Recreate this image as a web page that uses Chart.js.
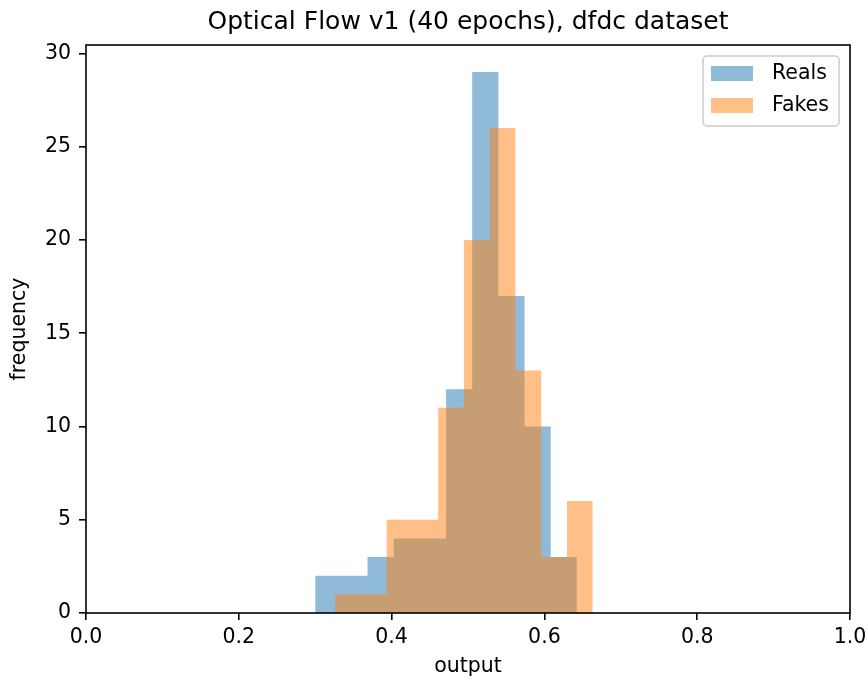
<!DOCTYPE html>
<html>
<head>
<meta charset="utf-8">
<title>Optical Flow v1 (40 epochs), dfdc dataset</title>
<script src="https://cdn.jsdelivr.net/npm/chart.js@4.4.1/dist/chart.umd.min.js"></script>
<style>
  html, body { margin: 0; padding: 0; background: #fff; }
  canvas { display: block; }
</style>
</head>
<body>
<canvas id="histChart" width="868" height="684"></canvas>
<script>
// ---- data (10 bins per histogram) ----
const realsEdges  = [0.3000, 0.3343, 0.3685, 0.4028, 0.4370, 0.4713, 0.5055, 0.5398, 0.5740, 0.6083, 0.6425];
const realsCounts = [2, 2, 3, 4, 4, 12, 29, 17, 10, 3];
const fakesEdges  = [0.3260, 0.3597, 0.3935, 0.4272, 0.4609, 0.4947, 0.5284, 0.5621, 0.5958, 0.6296, 0.6633];
const fakesCounts = [1, 1, 5, 5, 11, 20, 26, 13, 3, 6];
const xTicks = [0.0, 0.2, 0.4, 0.6, 0.8, 1.0];
const yTicks = [0, 5, 10, 15, 20, 25, 30];
const seriesLabels = ['Reals', 'Fakes'];
const chartTitle = 'Optical Flow v1 (40 epochs), dfdc dataset';

const FONT = "'DejaVu Sans', sans-serif";
const realsFill = 'rgba(31,119,180,0.5)';
const fakesFill = 'rgba(255,127,14,0.5)';

Chart.defaults.font.family = FONT;
Chart.defaults.color = '#000';

// histogram -> step outline points (value of bin i runs from edge i to edge i+1)
function stepPoints(edges, counts) {
  const pts = counts.map((c, i) => ({ x: edges[i], y: c }));
  pts.push({ x: edges[edges.length - 1], y: counts[counts.length - 1] });
  return pts;
}

// box around the axes, title and the legend (matplotlib style)
const mplLook = {
  id: 'mplLook',
  afterDatasetsDraw(chart) {
    const { ctx, chartArea: a } = chart;
    ctx.save();
    ctx.strokeStyle = '#000';
    ctx.lineWidth = 1.6;
    ctx.strokeRect(a.left, a.top, a.right - a.left, a.bottom - a.top);
    ctx.restore();
  },
  afterDraw(chart) {
    const { ctx, chartArea: a } = chart;
    ctx.save();
    // title
    ctx.fillStyle = '#000';
    ctx.font = `25px ${FONT}`;
    ctx.textAlign = 'center';
    ctx.textBaseline = 'middle';
    ctx.fillText(chartTitle, (a.left + a.right) / 2, 22);

    // legend
    const bx = a.right - 147, by = a.top + 11, bw = 136, bh = 70, r = 4;
    ctx.beginPath();
    ctx.roundRect(bx, by, bw, bh, r);
    ctx.fillStyle = 'rgba(255,255,255,0.8)';
    ctx.fill();
    ctx.strokeStyle = '#cccccc';
    ctx.lineWidth = 1.5;
    ctx.stroke();
    const fills = [realsFill, fakesFill];
    ctx.font = `20.5px ${FONT}`;
    ctx.textAlign = 'left';
    seriesLabels.forEach((lbl, i) => {
      const rowY = by + 10 + i * 32;
      ctx.fillStyle = fills[i];
      ctx.fillRect(bx + 8, rowY, 42, 15);
      ctx.fillStyle = '#000';
      ctx.fillText(lbl, bx + 69, rowY + 7.5);
    });
    ctx.restore();
  }
};

const ctx = document.getElementById('histChart').getContext('2d');
new Chart(ctx, {
  type: 'line',
  data: {
    datasets: [
      {
        label: seriesLabels[0],
        data: stepPoints(realsEdges, realsCounts),
        stepped: 'before',
        fill: 'origin',
        backgroundColor: realsFill,
        borderColor: 'transparent',
        borderWidth: 0,
        pointRadius: 0,
        order: 1
      },
      {
        label: seriesLabels[1],
        data: stepPoints(fakesEdges, fakesCounts),
        stepped: 'before',
        fill: 'origin',
        backgroundColor: fakesFill,
        borderColor: 'transparent',
        borderWidth: 0,
        pointRadius: 0,
        order: 0
      }
    ]
  },
  plugins: [mplLook],
  options: {
    responsive: false,
    animation: false,
    devicePixelRatio: 1,
    layout: { padding: { top: 45, right: 18, left: 0, bottom: 0 } },
    plugins: {
      legend: { display: false },
      tooltip: { enabled: false },
      title: { display: false }
    },
    scales: {
      x: {
        type: 'linear',
        min: 0,
        max: 1,
        afterBuildTicks: s => { s.ticks = xTicks.map(v => ({ value: v })); },
        afterFit: s => { s.height = 71; s.paddingLeft = 0; s.paddingRight = 0; },
        border: { display: false },
        grid: { drawOnChartArea: false, drawTicks: true, tickLength: 7, color: '#000', lineWidth: 1.6 },
        ticks: {
          padding: 5,
          maxRotation: 0,
          font: { size: 20.5 },
          callback: v => v.toFixed(1)
        },
        title: { display: true, text: 'output', font: { size: 20.5 }, padding: { top: 0, bottom: 5 } }
      },
      y: {
        type: 'linear',
        min: 0,
        max: 30.45,
        afterBuildTicks: s => { s.ticks = yTicks.map(v => ({ value: v })); },
        afterFit: s => { s.width = 86; s.paddingTop = 0; s.paddingBottom = 0; },
        border: { display: false },
        grid: { drawOnChartArea: false, drawTicks: true, tickLength: 7, color: '#000', lineWidth: 1.6 },
        ticks: { padding: 8, font: { size: 20.5 } },
        title: { display: true, text: 'frequency', font: { size: 20.5 }, padding: { top: 7, bottom: 0 } }
      }
    }
  }
});
</script>
</body>
</html>
